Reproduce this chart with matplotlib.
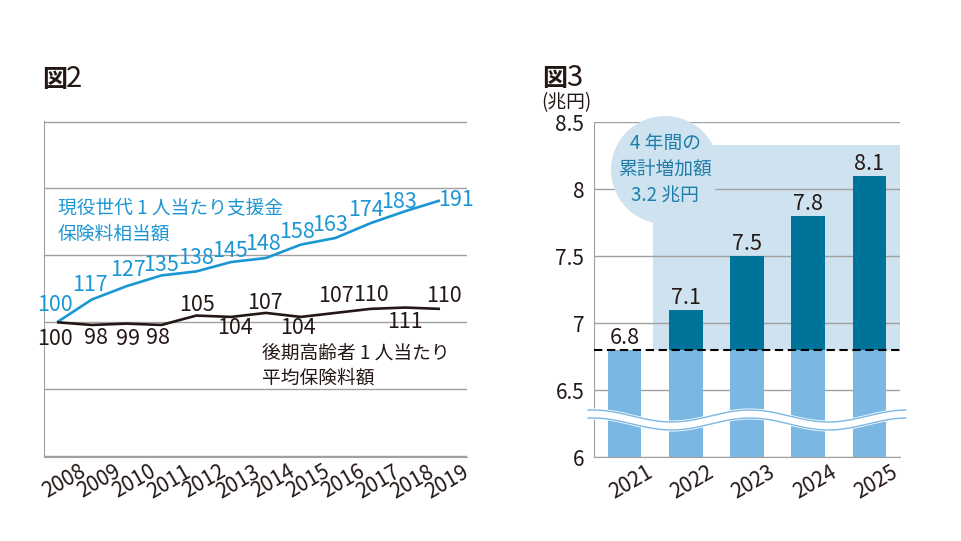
import numpy as np
import matplotlib
matplotlib.use('Agg')
import matplotlib.pyplot as plt
from matplotlib.patches import Rectangle, Circle, Polygon
from matplotlib.transforms import Affine2D, ScaledTranslation

plt.rcParams['font.family'] = ['Noto Sans CJK JP', 'DejaVu Sans']

# 図2 data (index, 2008 = 100)
years = [2008, 2009, 2010, 2011, 2012, 2013, 2014, 2015, 2016, 2017, 2018, 2019]
support_index = [100, 117, 127, 135, 138, 145, 148, 158, 163, 174, 183, 191]
elderly_index = [100, 98, 99, 98, 105, 104, 107, 104, 107, 110, 111, 110]

# 図3 data (兆円)
fiscal_years = ['2021', '2022', '2023', '2024', '2025']
trillion_yen = [6.8, 7.1, 7.5, 7.8, 8.1]
base_value = 6.8
y_ticks = [6, 6.5, 7, 7.5, 8, 8.5]
y_tick_labels = ['6', '6.5', '7', '7.5', '8', '8.5']

# colours
BLUE = '#1a96d4'
INK = '#231815'
GRID = '#a0a0a0'
LIGHT = '#7ab8e3'
DARK = '#00739b'
BG = '#cfe2f0'
TEAL = '#1f7ea8'

W, H = 961, 541
fig = plt.figure(figsize=(W / 100, H / 100), dpi=100)
# transform for image pixel coordinates (y going down)
pix = Affine2D().scale(1 / W, -1 / H).translate(0, 1) + fig.transFigure


def style_axes(ax):
    ax.spines['top'].set_visible(False)
    ax.spines['right'].set_visible(False)
    ax.spines['left'].set_color(GRID)
    ax.spines['bottom'].set_color(GRID)
    ax.yaxis.grid(True, color=GRID, lw=1)
    ax.set_axisbelow(True)
    ax.tick_params(length=0)


# ---------------- 図2 : line chart ----------------
ax1 = fig.add_axes([44 / W, 1 - 456.5 / H, 423 / W, 335.5 / H])
style_axes(ax1)
ax1.set_xlim(2007.626, 2019.776)
ax1.set_ylim(-0.3, 250.4)
ax1.set_yticks(range(0, 251, 50))
ax1.set_yticklabels([])

ax1.plot(years, support_index, color=BLUE, lw=1.9, solid_capstyle='butt')
ax1.plot(years, elderly_index, color=INK, lw=1.9, solid_capstyle='butt')

# label offsets (pixels, centre of label relative to point, up is +)
blue_offsets = [(-2, 19), (-2, 16), (1, 18), (0, 12), (0, 15), (-1, 13),
                (-3, 16), (-4, 14), (-5, 14), (-4, 15), (-6, 11), (16, 2)]
black_offsets = [(-2, -15), (4, -12), (1, -14), (-3, -12), (1, 12), (4, -10),
                 (-1, 11), (-3, -10), (0, 18), (1, 15), (0, -13), (4, 14)]
for yr, v, (dx, dy) in zip(years, support_index, blue_offsets):
    ax1.annotate(str(v), (yr, v), xytext=(dx, dy - 7.5), textcoords='offset pixels',
                 ha='center', va='baseline', fontsize=15.5, color=BLUE)
for yr, v, (dx, dy) in zip(years, elderly_index, black_offsets):
    ax1.annotate(str(v), (yr, v), xytext=(dx, dy - 7.5), textcoords='offset pixels',
                 ha='center', va='baseline', fontsize=15.5, color=INK)

ax1.set_xticks(years)
ax1.set_xticklabels([str(y) for y in years], rotation=30, ha='right', va='top',
                    rotation_mode='anchor', fontsize=15, color=INK)
ax1.tick_params(axis='x', pad=3)
for lab in ax1.get_xticklabels():
    lab.set_transform(lab.get_transform() + ScaledTranslation(0.22, 0, fig.dpi_scale_trans))

fig.text(58, 214, '現役世代 1 人当たり支援金', transform=pix, fontsize=13.5, color=BLUE)
fig.text(58, 240, '保険料相当額', transform=pix, fontsize=13.5, color=BLUE)
fig.text(262, 359, '後期高齢者 1 人当たり', transform=pix, fontsize=13.5, color=INK)
fig.text(262, 384, '平均保険料額', transform=pix, fontsize=13.5, color=INK)

fig.text(42, 87, '図', transform=pix, fontsize=18, fontweight='bold', color=INK)
fig.text(66, 87, '2', transform=pix, fontsize=21, color=INK)

# ---------------- 図3 : bar chart ----------------
ax2 = fig.add_axes([594 / W, 1 - 457 / H, 306 / W, 335 / H])
style_axes(ax2)
ax2.set_xlim(-0.5, 4.5)
ax2.set_ylim(6, 8.5)
ax2.set_yticks(y_ticks)
ax2.set_yticklabels(y_tick_labels, fontsize=15, color=INK)
ax2.tick_params(axis='y', pad=7)

xpos = np.arange(len(fiscal_years))
vals = np.array(trillion_yen)

# shaded increase area and bubble
ax2.add_patch(Rectangle((0.464, base_value), 4.5 - 0.464, 8.33 - base_value,
                        facecolor=BG, edgecolor='none', zorder=0.2))
ax2.add_patch(Circle((665, 170), 54, transform=pix, facecolor=BG, edgecolor='none',
                     zorder=1, clip_on=False))

ax2.bar(xpos, [base_value - 6] * len(xpos), bottom=6, width=0.547, color=LIGHT, zorder=2)
ax2.bar(xpos, vals - base_value, bottom=base_value, width=0.547, color=DARK, zorder=2)

for x, v in zip(xpos, vals):
    ax2.annotate(f'{v:.1f}', (x, v), xytext=(0, 6), textcoords='offset pixels',
                 ha='center', va='baseline', fontsize=15.5, color=INK, zorder=5)

ax2.plot([-0.5, 4.55], [base_value, base_value], color='black', lw=1.5,
         ls=(0, (4, 2.2)), clip_on=False, zorder=4)

ax2.set_xticks(xpos)
ax2.set_xticklabels(fiscal_years, rotation=30, ha='right', va='top',
                    rotation_mode='anchor', fontsize=15, color=INK)
ax2.tick_params(axis='x', pad=3)
for lab in ax2.get_xticklabels():
    lab.set_transform(lab.get_transform() + ScaledTranslation(0.21, 0, fig.dpi_scale_trans))

# axis break wave
wx = np.linspace(588, 906, 300)
wc = 420 - 6 * np.cos(2 * np.pi * (wx - 593) / 157)
band = np.concatenate([np.column_stack([wx, wc - 5.5]), np.column_stack([wx[::-1], wc[::-1] + 5.5])])
ax2.add_patch(Polygon(band, closed=True, transform=pix, facecolor='white',
                      edgecolor='none', zorder=6, clip_on=False))
ax2.plot(wx, wc - 4, color=LIGHT, lw=1.0, transform=pix, zorder=7, clip_on=False)
ax2.plot(wx, wc + 4, color=LIGHT, lw=1.0, transform=pix, zorder=7, clip_on=False)
ax2.set_xlim(-0.5, 4.5)
ax2.set_ylim(6, 8.5)

for txt, yb in [('4 年間の', 149), ('累計増加額', 175), ('3.2 兆円', 202)]:
    fig.text(665, yb, txt, transform=pix, fontsize=13.5, color=TEAL, ha='center', zorder=8)

fig.text(542, 86, '図', transform=pix, fontsize=18, fontweight='bold', color=INK)
fig.text(566, 86, '3', transform=pix, fontsize=21, color=INK)
fig.text(541, 108, '(兆円)', transform=pix, fontsize=13.5, color=INK)

fig.savefig('out.png', dpi=100, facecolor='white')
